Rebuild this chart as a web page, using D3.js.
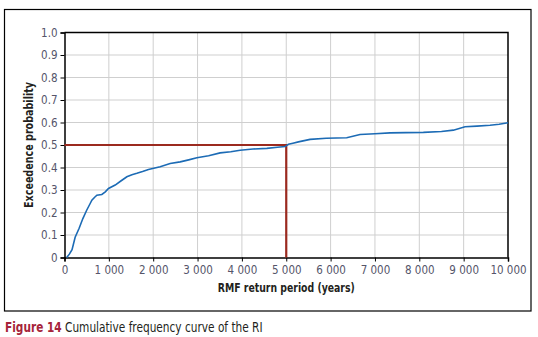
<!DOCTYPE html>
<html lang="en">
<head>
<meta charset="UTF-8">
<title>Cumulative frequency curve of the RI</title>
<script src="https://d3js.org/d3.v7.min.js"></script>
<style>
  body { margin: 0; background: #fff; }
  svg text { font-family: "Liberation Sans Narrow", "DejaVu Sans Condensed", "Liberation Sans", sans-serif; }
  .tick text { fill: #55556a; font-size: 11.5px; }
  .axis-label { font-weight: bold; font-size: 12.5px; fill: #231f20; }
</style>
</head>
<body>
<svg width="538" height="337"></svg>
<script>
// return period (years) and exceedence probability
const years = [50, 110, 170, 240, 330, 414, 500, 579, 617, 680, 730, 842, 920, 992, 1143, 1270, 1406, 1520,
  1632, 1760, 1893, 2157, 2382, 2608, 2800, 2984, 3250, 3509, 3750, 3960, 4250, 4562, 4800, 4975, 5049, 5150,
  5274, 5538, 5900, 6364, 6664, 7000, 7340, 7700, 8092, 8500, 8768, 9031, 9300, 9594, 9800, 10000];
const prob = [0, 0.015, 0.035, 0.09, 0.13, 0.173, 0.21, 0.24, 0.255, 0.268, 0.277, 0.28, 0.292, 0.307, 0.322, 0.34, 0.359, 0.368,
  0.374, 0.382, 0.391, 0.403, 0.418, 0.425, 0.434, 0.443, 0.452, 0.465, 0.47, 0.477, 0.482, 0.485, 0.49, 0.493, 0.503, 0.508,
  0.514, 0.525, 0.53, 0.532, 0.547, 0.55, 0.554, 0.555, 0.556, 0.56, 0.566, 0.581, 0.584, 0.588, 0.592, 0.599];
const xTicks = [0, 1000, 2000, 3000, 4000, 5000, 6000, 7000, 8000, 9000, 10000];
const yTicks = [0, 0.1, 0.2, 0.3, 0.4, 0.5, 0.6, 0.7, 0.8, 0.9, 1.0];
const marker = { year: 5000, prob: 0.5 };

const curve = years.map((y, i) => ({ year: y, p: prob[i] }));

const svg = d3.select("svg"),
  margin = { top: 32.5, right: 30, bottom: 79.5, left: 64.5 },
  width = +svg.attr("width") - margin.left - margin.right,
  height = +svg.attr("height") - margin.top - margin.bottom;

// outer frame
svg.append("rect")
  .attr("x", 4.5).attr("y", 9.5)
  .attr("width", 526.5).attr("height", 301.5)
  .attr("fill", "none").attr("stroke", "#000").attr("stroke-width", 1.2);

const g = svg.append("g").attr("transform", `translate(${margin.left},${margin.top})`);

const x = d3.scaleLinear().domain([0, 10000]).range([0, width]);
const y = d3.scaleLinear().domain([0, 1]).range([height, 0]);

// grid
g.append("g").selectAll("line").data(xTicks.slice(1, -1)).join("line")
  .attr("x1", d => x(d)).attr("x2", d => x(d)).attr("y1", 0).attr("y2", height)
  .attr("stroke", "#cfcfcf").attr("stroke-width", 1);
g.append("g").selectAll("line").data(yTicks.slice(1, -1)).join("line")
  .attr("y1", d => y(d)).attr("y2", d => y(d)).attr("x1", 0).attr("x2", width)
  .attr("stroke", "#cfcfcf").attr("stroke-width", 1);

// axes
const fmt = d => d3.format(",")(d).replace(",", " ");
const xAxis = g.append("g")
  .attr("transform", `translate(0,${height})`)
  .call(d3.axisBottom(x).tickValues(xTicks).tickSize(4).tickPadding(4).tickFormat(fmt));
const yAxis = g.append("g")
  .call(d3.axisLeft(y).tickValues(yTicks).tickSize(4).tickPadding(3).tickFormat(d => d === 0 ? "0" : d.toFixed(1)));
[xAxis, yAxis].forEach(a => {
  a.select(".domain").attr("stroke", "#000").attr("stroke-width", 1.5);
  a.selectAll(".tick line").attr("stroke", "#000");
});

// top and right border of the plot area
g.append("path")
  .attr("d", `M0,0H${width}V${height}`)
  .attr("fill", "none").attr("stroke", "#000").attr("stroke-width", 1.5);

// 50% marker lines
g.append("path")
  .attr("d", `M${x(0)},${y(marker.prob)}H${x(marker.year)}V${y(0)}`)
  .attr("fill", "none").attr("stroke", "#9b2a1f").attr("stroke-width", 2.2);

// curve
g.append("path")
  .datum(curve)
  .attr("fill", "none")
  .attr("stroke", "#1c6bb5")
  .attr("stroke-width", 1.6)
  .attr("d", d3.line().x(d => x(d.year)).y(d => y(d.p)));

// axis titles
svg.append("text")
  .attr("class", "axis-label")
  .attr("x", margin.left + width / 2)
  .attr("y", 292)
  .attr("text-anchor", "middle")
  .attr("textLength", 137)
  .attr("lengthAdjust", "spacingAndGlyphs")
  .text("RMF return period (years)");

svg.append("text")
  .attr("class", "axis-label")
  .attr("transform", `translate(33,${margin.top + height / 2}) rotate(-90)`)
  .attr("text-anchor", "middle")
  .attr("textLength", 126)
  .attr("lengthAdjust", "spacingAndGlyphs")
  .text("Exceedence probability");

// caption, squeezed horizontally to look like the condensed original
const cap = svg.append("text")
  .attr("transform", "translate(5,332) scale(0.84,1)")
  .style("font-size", "14px");
cap.append("tspan").attr("fill", "#a6243a").attr("font-weight", "bold").text("Figure 14");
cap.append("tspan").attr("fill", "#231f20").text(" Cumulative frequency curve of the RI");
</script>
</body>
</html>
